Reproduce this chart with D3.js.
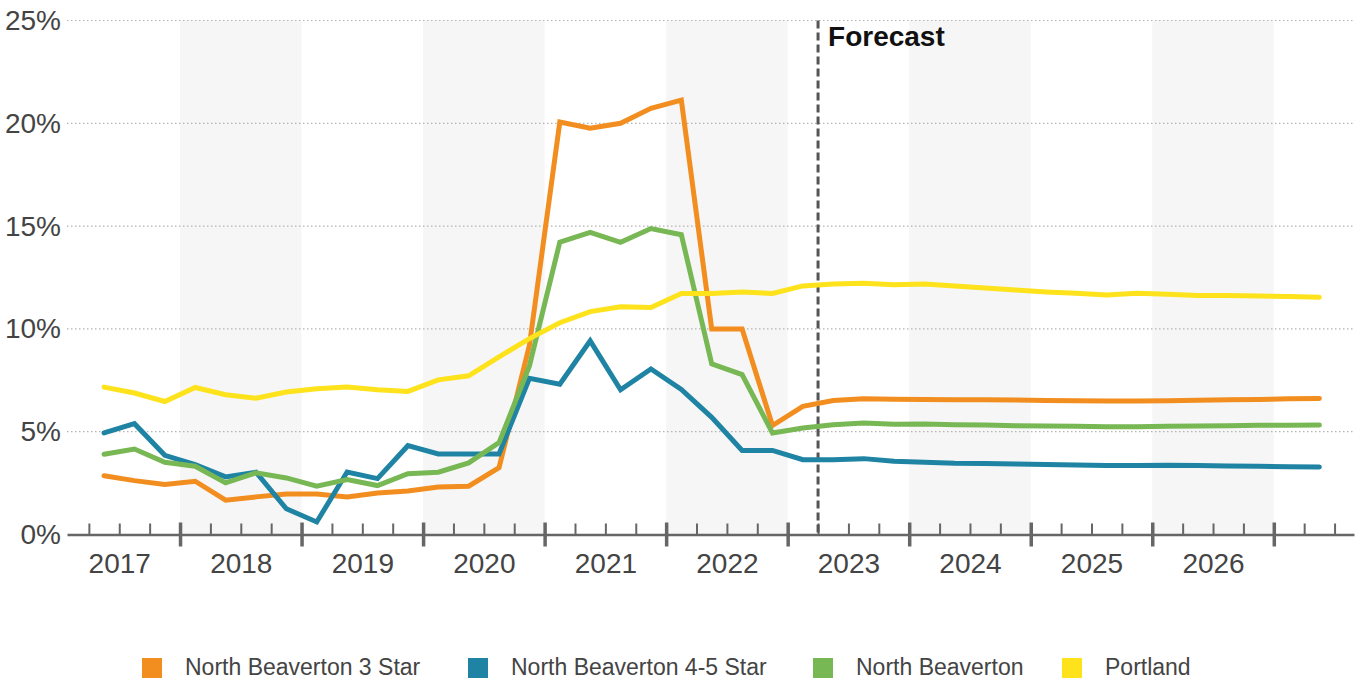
<!DOCTYPE html>
<html>
<head>
    <meta charset='utf-8'>
    <title>North Beaverton Vacancy</title>
    <script src="https://cdn.jsdelivr.net/npm/d3@7"></script>
    <style>
        body { margin: 0; background: #fff; }
        svg { display: block; font-family: "Liberation Sans", Arial, sans-serif; }
        .grid line { stroke: #b3b3b3; stroke-width: 1.2; stroke-dasharray: 1.5, 2.5; }
        .axis path, .axis line { stroke: #666; }
        .series { fill: none; stroke-width: 5; stroke-linecap: round; }
    </style>
</head>
<body>
<svg width="1365" height="681"></svg>

<script>
    // quarters, 2017 Q2 .. 2027 Q2
    const QUARTERS = d3.range(0, 41).map(i => {
        const n = 1 + i;             // 2017 Q2 is index 1 of 2017
        return (2017 + Math.floor(n / 4)) + 'Q' + (n % 4 + 1);
    });

    const YEARS = [2017, 2018, 2019, 2020, 2021, 2022, 2023, 2024, 2025, 2026];
    const Y_TICKS = [0, 0.05, 0.10, 0.15, 0.20, 0.25];
    const FORECAST_START = '2023Q2';

    const STAR3 = [2.86, 2.62, 2.43, 2.59, 1.67, 1.83, 1.97, 1.97, 1.83, 2.02, 2.12, 2.31, 2.35, 3.25,
        9.2, 20.06, 19.76, 20.0, 20.73, 21.13, 10.0, 10.0, 5.3, 6.23, 6.52, 6.6, 6.58, 6.57, 6.56,
        6.55, 6.54, 6.52, 6.5, 6.49, 6.49, 6.5, 6.53, 6.55, 6.57, 6.6, 6.62];
    const STAR45 = [4.94, 5.39, 3.85, 3.40, 2.80, 3.03, 1.25, 0.61, 3.04, 2.72, 4.32, 3.92, 3.92, 3.92,
        7.6, 7.31, 9.42, 7.04, 8.05, 7.06, 5.7, 4.09, 4.09, 3.64, 3.64, 3.69, 3.56, 3.51, 3.46,
        3.45, 3.43, 3.40, 3.38, 3.35, 3.35, 3.37, 3.35, 3.33, 3.32, 3.30, 3.28];
    const NB_ALL = [3.9, 4.16, 3.51, 3.32, 2.51, 3.0, 2.75, 2.35, 2.67, 2.38, 2.96, 3.03, 3.48, 4.47,
        8.2, 14.22, 14.7, 14.21, 14.88, 14.58, 8.3, 7.78, 4.94, 5.18, 5.34, 5.42, 5.36, 5.37, 5.34,
        5.32, 5.29, 5.28, 5.26, 5.24, 5.24, 5.26, 5.28, 5.29, 5.31, 5.31, 5.32];
    const PORTLAND = [7.17, 6.88, 6.47, 7.15, 6.8, 6.63, 6.93, 7.09, 7.17, 7.04, 6.96, 7.52, 7.72, 8.64,
        9.53, 10.3, 10.84, 11.08, 11.04, 11.72, 11.72, 11.8, 11.72, 12.09, 12.18, 12.22, 12.15, 12.18, 12.09,
        11.99, 11.89, 11.8, 11.73, 11.65, 11.73, 11.68, 11.63, 11.62, 11.6, 11.57, 11.54];

    const SERIES_NAMES = ['North Beaverton 3 Star', 'North Beaverton 4-5 Star', 'North Beaverton', 'Portland'];
    const SERIES_VALUES = [STAR3, STAR45, NB_ALL, PORTLAND];
    const COLORS = ['#f28e1f', '#1f84a3', '#77b754', '#fde21c'];

    // quarter string -> decimal year at middle of the quarter
    const qTime = q => +q.slice(0, 4) + (+q.slice(5) - 1) / 4 + 0.125;

    const svg = d3.select('svg');

    const x = d3.scaleLinear().domain([2017.07, 2027.66]).range([67, 1354]);
    const y = d3.scaleLinear().domain([0, 0.25]).range([534.5, 20.5]);

    // alternate year shading
    svg.append('g')
        .selectAll('rect')
        .data(YEARS.filter(yr => yr % 2 === 0))
        .enter()
        .append('rect')
        .attr('x', d => x(d))
        .attr('width', d => x(d + 1) - x(d))
        .attr('y', y(0.25))
        .attr('height', y(0) - y(0.25))
        .attr('fill', '#f6f6f6');

    // horizontal grid
    svg.append('g')
        .attr('class', 'grid')
        .selectAll('line')
        .data(Y_TICKS.filter(t => t > 0))
        .enter()
        .append('line')
        .attr('x1', x.range()[0])
        .attr('x2', x.range()[1])
        .attr('y1', d => y(d))
        .attr('y2', d => y(d));

    // y labels
    const yAxis = d3.axisLeft(y).tickValues(Y_TICKS).tickSize(0).tickPadding(6).tickFormat(d3.format('.0%'));
    svg.append('g')
        .attr('transform', 'translate(61,0)')
        .call(yAxis)
        .call(g => g.select('.domain').remove())
        .call(g => g.selectAll('text')
            .attr('font-size', 28)
            .attr('font-family', '"Liberation Sans", Arial, sans-serif')
            .attr('fill', '#444')
            .attr('x', 0));

    // x axis: minor quarter ticks
    const minorTicks = [];
    for (let yr = 2017; yr <= 2027; yr++) {
        [0.25, 0.5, 0.75].forEach(f => {
            if (yr + f < x.domain()[1]) minorTicks.push(yr + f);
        });
    }
    const majorTicks = d3.range(2018, 2028);

    const axisG = svg.append('g')
        .attr('class', 'axis')
        .attr('transform', `translate(0,${y(0)})`);

    axisG.append('g')
        .call(d3.axisBottom(x).tickValues(minorTicks).tickSizeInner(-11).tickSizeOuter(0).tickFormat(''))
        .call(g => g.selectAll('line').attr('stroke-width', 2))
        .call(g => g.select('.domain').attr('stroke-width', 2.5));

    axisG.append('g')
        .call(d3.axisBottom(x).tickValues(majorTicks).tickSize(12).tickFormat(''))
        .call(g => g.select('.domain').remove())
        .call(g => g.selectAll('line').attr('y1', -12).attr('stroke-width', 3.5));

    // year labels centered in each year
    axisG.append('g')
        .call(d3.axisBottom(x).tickValues(YEARS.map(d => d + 0.5)).tickSize(0).tickPadding(19)
            .tickFormat(d => String(Math.floor(d))))
        .call(g => g.select('.domain').remove())
        .call(g => g.selectAll('text')
            .attr('font-size', 28)
            .attr('font-family', '"Liberation Sans", Arial, sans-serif')
            .attr('fill', '#444'));

    // forecast divider
    const fx = x(qTime(FORECAST_START) - 0.125);
    svg.append('line')
        .attr('x1', fx).attr('x2', fx)
        .attr('y1', y(0.25)).attr('y2', y(0))
        .attr('stroke', '#555')
        .attr('stroke-width', 3)
        .attr('stroke-dasharray', '8,4');

    svg.append('text')
        .attr('x', fx + 10)
        .attr('y', 46)
        .attr('font-size', 28)
        .attr('font-weight', 'bold')
        .attr('fill', '#111')
        .text('Forecast');

    // lines
    const line = d3.line()
        .x((d, i) => x(qTime(QUARTERS[i])))
        .y(d => y(d / 100));

    svg.append('g')
        .selectAll('path')
        .data(SERIES_VALUES)
        .enter()
        .append('path')
        .attr('class', 'series')
        .attr('stroke', (d, i) => COLORS[i])
        .attr('d', line);

    // legend
    const LEGEND_X = [142, 468, 813, 1062];
    const legend = svg.append('g')
        .selectAll('g')
        .data(SERIES_NAMES)
        .enter()
        .append('g')
        .attr('transform', (d, i) => `translate(${LEGEND_X[i]},658)`);

    legend.append('rect')
        .attr('width', 20)
        .attr('height', 20)
        .attr('fill', (d, i) => COLORS[i]);

    legend.append('text')
        .attr('x', 43)
        .attr('y', 17)
        .attr('font-size', 23)
        .attr('fill', '#444')
        .text(d => d);
</script>
</body>
</html>
